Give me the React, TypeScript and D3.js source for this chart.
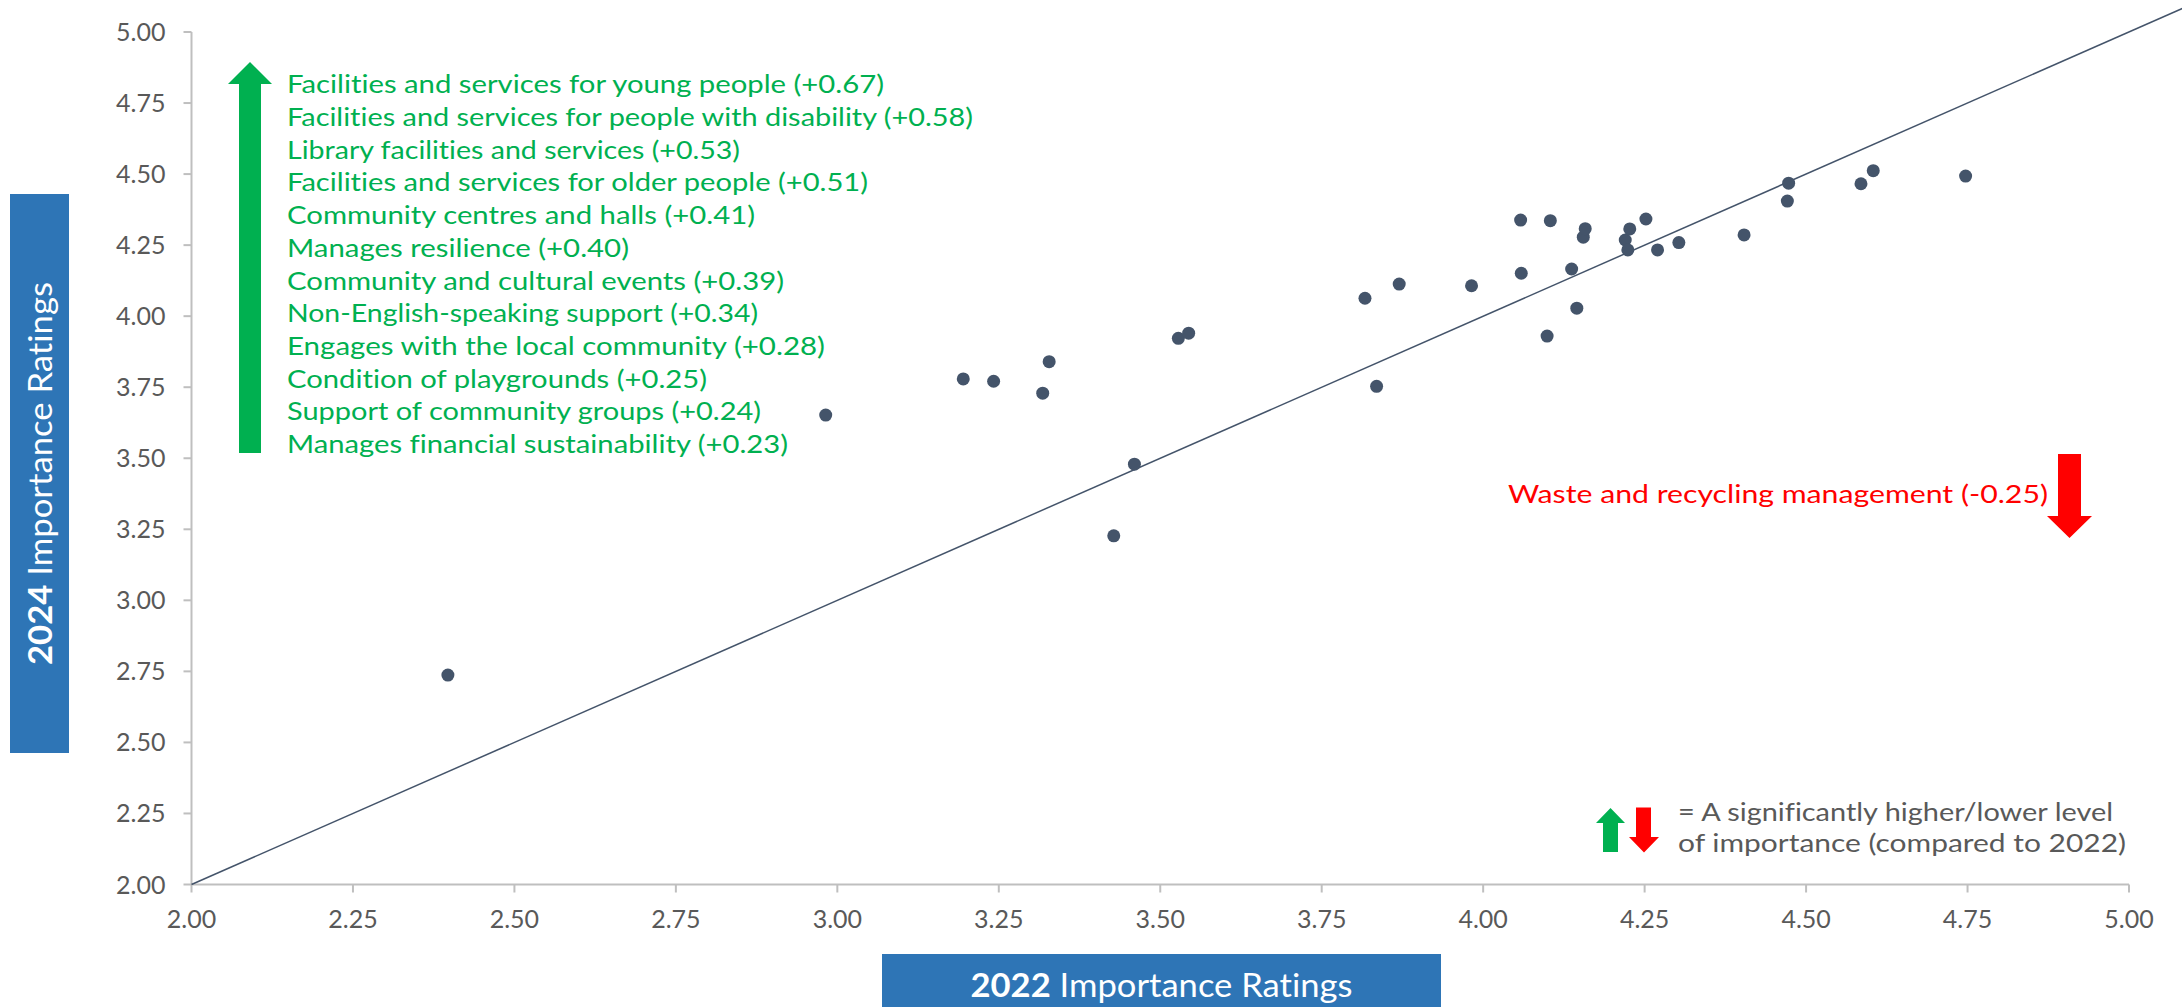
import React from "react";
import * as d3 from "d3";

// ---- data ----
const rating2022: number[] = [
  2.397, 2.982, 3.195, 3.242, 3.318, 3.328, 3.428, 3.46, 3.528, 3.544, 3.817, 3.835,
  3.87, 3.982, 4.058, 4.059, 4.099, 4.104, 4.137, 4.145, 4.155, 4.158, 4.22, 4.224,
  4.227, 4.252, 4.27, 4.303, 4.404, 4.471, 4.473, 4.585, 4.604, 4.747,
];
const rating2024: number[] = [
  2.737, 3.652, 3.779, 3.771, 3.729, 3.84, 3.227, 3.479, 3.922, 3.94, 4.063, 3.753,
  4.113, 4.107, 4.338, 4.151, 3.93, 4.336, 4.166, 4.028, 4.278, 4.308, 4.268, 4.233,
  4.307, 4.342, 4.233, 4.259, 4.286, 4.405, 4.468, 4.466, 4.512, 4.493,
];
const tickValues: number[] = [2.0, 2.25, 2.5, 2.75, 3.0, 3.25, 3.5, 3.75, 4.0, 4.25, 4.5, 4.75, 5.0];
const higherItems: string[] = [
  "Facilities and services for young people (+0.67)",
  "Facilities and services for people with disability (+0.58)",
  "Library facilities and services (+0.53)",
  "Facilities and services for older people (+0.51)",
  "Community centres and halls (+0.41)",
  "Manages resilience (+0.40)",
  "Community and cultural events (+0.39)",
  "Non-English-speaking support (+0.34)",
  "Engages with the local community (+0.28)",
  "Condition of playgrounds (+0.25)",
  "Support of community groups (+0.24)",
  "Manages financial sustainability (+0.23)",
];
const lowerItems: string[] = ["Waste and recycling management (-0.25)"];
const legendLines: string[] = ["= A significantly higher/lower level", "of importance (compared to 2022)"];

// ---- layout ----
const W = 2182;
const H = 1007;
const FONT = "Lato, 'Open Sans', sans-serif";
const GREEN = "#00b050";
const RED = "#ff0000";
const BLUE = "#2e75b6";
const DOT = "#44546a";
const AXIS = "#bfbfbf";
const TEXT = "#595959";
const greenWidths = [597, 686, 453, 581, 468, 342, 497, 471, 538, 420, 474, 501];

export default function App() {
  const x = d3.scaleLinear().domain([2, 5]).range([191.5, 2129]);
  const y = d3.scaleLinear().domain([2, 5]).range([884.5, 32]);
  const diag = d3.line<number>().x((d) => x(d)).y((d) => y(d));
  const pts = rating2022.map((v, i) => ({ x: v, y: rating2024[i] }));

  return (
    <div style={{ position: "absolute", left: 0, top: 0 }}>
      <svg
        width={W}
        height={H}
        style={{ display: "block", background: "#fff", fontVariantLigatures: "none", fontFeatureSettings: '"liga" 0, "clig" 0' }}
        fontFamily={FONT}
      >
        <rect x={0} y={0} width={W} height={H} fill="#fff" />
        {/* axes */}
        <line x1={x(2)} x2={x(2)} y1={y(5)} y2={y(2)} stroke={AXIS} strokeWidth={2} />
        <line x1={x(2)} x2={x(5)} y1={y(2)} y2={y(2)} stroke={AXIS} strokeWidth={2} />
        {tickValues.map((t) => (
          <g key={"y" + t}>
            <line x1={x(2) - 8} x2={x(2)} y1={y(t)} y2={y(t)} stroke={AXIS} strokeWidth={2} />
            <text x={165.5} y={y(t) + 9} textAnchor="end" fontSize={25} fill={TEXT}>
              {t.toFixed(2)}
            </text>
          </g>
        ))}
        {tickValues.map((t) => (
          <g key={"x" + t}>
            <line x1={x(t)} x2={x(t)} y1={y(2)} y2={y(2) + 8} stroke={AXIS} strokeWidth={2} />
            <text x={x(t)} y={928} textAnchor="middle" fontSize={25} fill={TEXT}>
              {t.toFixed(2)}
            </text>
          </g>
        ))}
        {/* diagonal y = x */}
        <path d={diag([2, 5.15]) || ""} stroke={DOT} strokeWidth={1.5} fill="none" />
        {/* points */}
        {pts.map((p, i) => (
          <circle key={i} cx={x(p.x)} cy={y(p.y)} r={6.5} fill={DOT} />
        ))}
        {/* green arrow + list */}
        <polygon points="239,453 261,453 261,84 272,84 250,62 228,84 239,84" fill={GREEN} />
        {higherItems.map((s, i) => (
          <text
            key={s}
            x={287}
            y={93.3 + i * 32.7}
            fontSize={25}
            fill={GREEN}
            textLength={greenWidths[i]}
            lengthAdjust="spacingAndGlyphs"
          >
            {s}
          </text>
        ))}
        {/* red annotation */}
        <polygon points="2058,454 2081,454 2081,516 2092,516 2069.5,538 2047,516 2058,516" fill={RED} />
        <text x={1508} y={503} fontSize={25} fill={RED} textLength={540} lengthAdjust="spacingAndGlyphs">
          {lowerItems[0]}
        </text>
        {/* legend */}
        <polygon points="1603,852 1618,852 1618,823 1625,823 1610.5,808 1596,823 1603,823" fill={GREEN} />
        <polygon points="1636,807.5 1651,807.5 1651,837 1659,837 1644,852.5 1629,837 1636,837" fill={RED} />
        <text x={1678} y={821} fontSize={25} fill={TEXT} textLength={435} lengthAdjust="spacingAndGlyphs">
          {legendLines[0]}
        </text>
        <text x={1678} y={852} fontSize={25} fill={TEXT} textLength={448} lengthAdjust="spacingAndGlyphs">
          {legendLines[1]}
        </text>
        {/* y title */}
        <rect x={10} y={194} width={59} height={559} fill={BLUE} />
        <text
          transform="translate(52,473.5) rotate(-90)"
          textAnchor="middle"
          fontSize={33}
          fill="#fff"
          textLength={383}
          lengthAdjust="spacingAndGlyphs"
        >
          <tspan fontWeight="bold">2024</tspan>
          <tspan> Importance Ratings</tspan>
        </text>
        {/* x title */}
        <rect x={882} y={954} width={559} height={59} fill={BLUE} />
        <text
          x={1161.5}
          y={996.5}
          textAnchor="middle"
          fontSize={33}
          fill="#fff"
          textLength={382}
          lengthAdjust="spacingAndGlyphs"
        >
          <tspan fontWeight="bold">2022</tspan>
          <tspan> Importance Ratings</tspan>
        </text>
      </svg>
    </div>
  );
}
